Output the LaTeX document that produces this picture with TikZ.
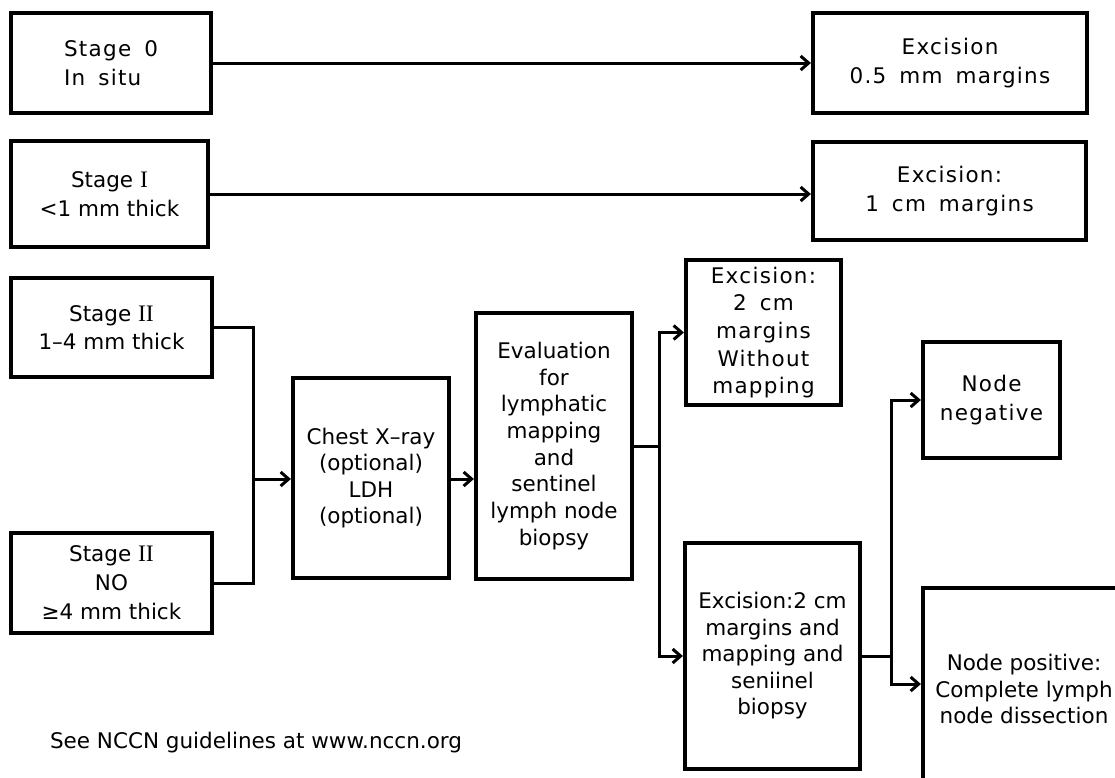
\documentclass[tikz,border=0pt]{standalone}
\usepackage{fontspec}
\setmainfont{DejaVu Sans}
\newfontfamily\widefont[LetterSpace=6,WordSpace=1.6]{DejaVu Sans}
\newfontfamily\romfont[Scale=1.1]{Liberation Serif}
\usetikzlibrary{arrows.meta}
\newcommand{\rn}[1]{{\romfont #1}}
\begin{document}
\begin{tikzpicture}[x=1pt,y=-1pt,
  box/.style={draw, line width=4.2pt, inner sep=0pt, align=center, font=\fontsize{21.5}{27.5}\selectfont},
  wbox/.style={box, font=\widefont\fontsize{21.5}{29}\selectfont},
  conn/.style={line width=3pt},
  arr/.style={conn, -{Straight Barb[length=8pt,width=14pt]}}]
\useasboundingbox (0,0) rectangle (1115,777);
\clip (0,0) rectangle (1115,777);
\fill[white] (0,0) rectangle (1115,777);

\node[wbox, minimum width=200pt, minimum height=100pt, align=left] (s0) at (111,63) {Stage 0\\In situ};
\node[box, minimum width=197pt, minimum height=106pt, font=\fontsize{21.5}{29}\selectfont] (s1) at (109.5,194) {Stage \rn{I}\\<1 mm thick};
\node[wbox, minimum width=274pt, minimum height=100pt] (e0) at (950,63) {Excision\\0.5 mm margins};
\node[wbox, minimum width=273pt, minimum height=98pt] (e1) at (949.5,191) {Excision:\\1 cm margins};
\node[box, minimum width=201pt, minimum height=99pt] (s2a) at (111.5,327.5) {Stage \rn{II}\\1–4 mm thick};
\node[box, minimum width=201pt, minimum height=100pt, font=\fontsize{21.5}{29}\selectfont] (s2b) at (111.5,583) {Stage \rn{II}\\NO\\≥4 mm thick};
\node[box, minimum width=156pt, minimum height=200pt, font=\fontsize{21.5}{26.3}\selectfont] (chest) at (371,478) {Chest X–ray\\(optional)\\LDH\\(optional)};
\node[box, minimum width=156pt, minimum height=266pt, font=\fontsize{21.5}{26.7}\selectfont] (eval) at (554,446) {Evaluation\\for\\lymphatic\\mapping\\and\\sentinel\\lymph node\\biopsy};
\node[wbox, minimum width=155pt, minimum height=145pt, font=\widefont\fontsize{21.5}{27.7}\selectfont] (ex2a) at (763.5,332.5) {Excision:\\2 cm\\margins\\Without\\mapping};
\node[box, minimum width=175pt, minimum height=226pt, font=\fontsize{21.5}{26.5}\selectfont] (ex2b) at (772.5,656) {Excision:2 cm\\margins and\\mapping and\\seniinel\\biopsy};
\node[wbox, minimum width=137pt, minimum height=116pt] (nneg) at (991.5,400) {Node\\negative};
\node[box, minimum width=202pt, minimum height=202pt, font=\fontsize{21.5}{26.5}\selectfont] (npos) at (1024,689) {Node positive:\\Complete lymph\\node dissection};
\node[font=\fontsize{21.5}{26}\selectfont, inner sep=0pt] (note) at (256,743) {See NCCN guidelines at www.nccn.org};

\coordinate (j1) at (253,479);
\coordinate (j2) at (659,447);
\coordinate (j3) at (891,656);

\draw[arr] (s0.east) -- (e0.west);
\draw[arr] (s1.east) -- (s1.east -| e1.west);
\draw[conn] (s2a.east) -| (j1) |- (s2b.east);
\draw[arr] (j1) -- (chest.west |- j1);
\draw[arr] (chest.east |- j1) -- (eval.west |- j1);
\draw[conn] (eval.east) -- (j2 |- eval.east);
\draw[arr] (j2) |- (ex2a.west);
\draw[arr] (j2) |- (ex2b.west);
\draw[conn] (ex2b.east) -- (j3);
\draw[arr] (j3) |- (nneg.west);
\draw[arr] (j3) |- ([yshift=5pt]npos.west);
\end{tikzpicture}
\end{document}
